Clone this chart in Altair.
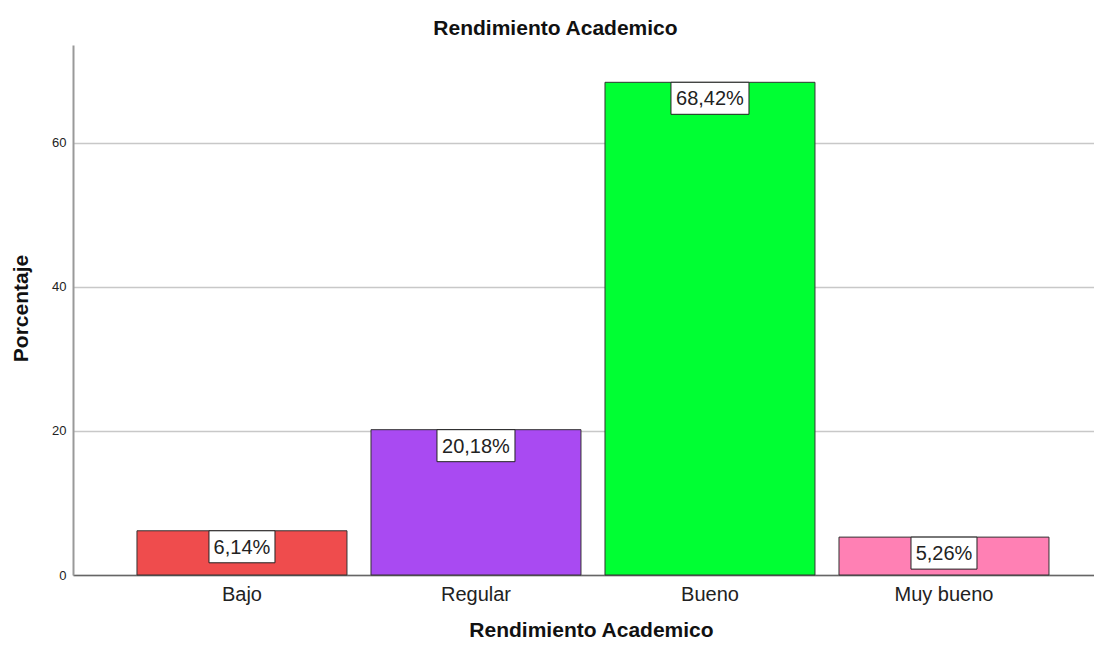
import altair as alt
import pandas as pd

categorias = ["Bajo", "Regular", "Bueno", "Muy bueno"]
porcentajes = [6.14, 20.18, 68.42, 5.26]
etiquetas = ["6,14%", "20,18%", "68,42%", "5,26%"]
colores = ["#EF4C4D", "#A94AF2", "#00FF33", "#FF80B4"]
ticks_y = [0, 20, 40, 60]

FONT = "Liberation Sans"


def caja(label):
    # white label box: width grows with the label length, 32px high
    w = 12 * len(label) + 6
    half = 39.0
    hx = (w / 2) / half
    hy = 16 / half
    return f"M{-hx},{-hy}L{hx},{-hy}L{hx},{hy}L{-hx},{hy}Z"


df = pd.DataFrame({
    "cat": categorias,
    "pct": porcentajes,
    "lab": etiquetas,
    "shape": [caja(l) for l in etiquetas],
})

x_enc = alt.X(
    "cat:N",
    sort=categorias,
    scale=alt.Scale(paddingInner=0.1026, paddingOuter=0.2329, align=0.587),
    axis=alt.Axis(
        title="Rendimiento Academico",
        titleFont=FONT, titleFontSize=21, titleFontWeight="bold", titleColor="#111",
        titleX=518, titleY=61, titleBaseline="alphabetic", titleAlign="center",
        labelAngle=0, labelFont=FONT, labelFontSize=20, labelColor="#222",
        labelPadding=9, ticks=False, domainColor="#666", domainWidth=1.5,
        grid=False,
    ),
)

y_enc = alt.Y(
    "pct:Q",
    scale=alt.Scale(domain=[0, 73.6], nice=False, zero=True),
    axis=alt.Axis(
        values=ticks_y,
        title="Porcentaje",
        titleFont=FONT, titleFontSize=21, titleFontWeight="bold", titleColor="#111",
        titleX=-52, titleY=263, titleAngle=-90, titleBaseline="middle", titleAlign="center",
        labelFont=FONT, labelFontSize=13, labelColor="#222", labelPadding=7,
        ticks=False, domainColor="#999", domainWidth=2,
        grid=True, gridColor="#c8c8c8", gridWidth=1.5,
    ),
)

base = alt.Chart(df).encode(x=x_enc, y=y_enc)

bars = base.mark_bar(stroke="#333", strokeWidth=1).encode(
    color=alt.Color("cat:N", scale=alt.Scale(domain=categorias, range=colores), legend=None)
)

boxes = base.mark_point(
    filled=True, fill="white", stroke="#222", strokeWidth=1,
    opacity=1, fillOpacity=1, size=6084, yOffset=16,
).encode(shape=alt.Shape("shape:N", scale=None))

texts = base.mark_text(
    font=FONT, fontSize=20, color="#222", baseline="middle", align="center", yOffset=17
).encode(text="lab:N")

chart = alt.layer(bars, boxes, texts).properties(
    width=1021,
    height=530,
    autosize=alt.AutoSizeParams(type="none"),
    padding={"left": 65, "top": 37, "right": 0, "bottom": 67},
    title=alt.TitleParams(
        "Rendimiento Academico", font=FONT, fontSize=21, fontWeight="bold",
        color="#111", anchor="middle", dx=-28, offset=6,
    ),
).configure_view(stroke=None)

chart.save("out.html", embed_options={"renderer": "svg", "actions": False})
